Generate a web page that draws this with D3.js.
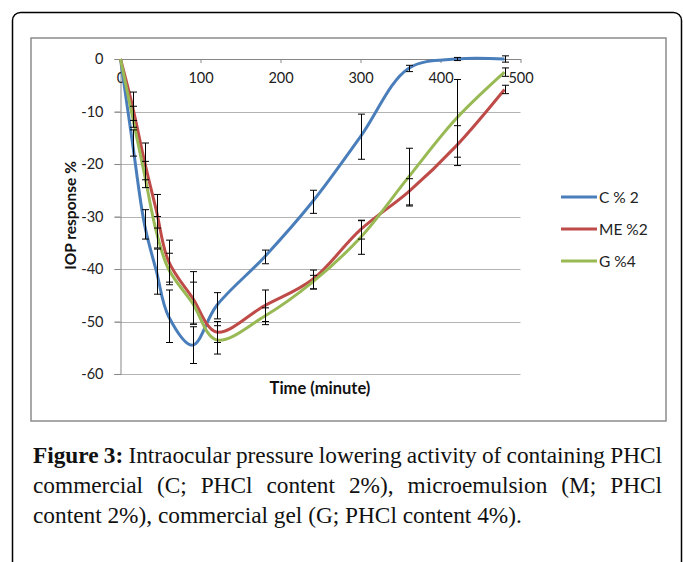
<!DOCTYPE html>
<html>
<head>
<meta charset="utf-8">
<script src="https://cdn.jsdelivr.net/npm/d3@7"></script>
<style>
html,body{margin:0;padding:0;background:#fff;}
svg{display:block;}
</style>
</head>
<body>
<svg id="chart" width="683" height="562"></svg>
<script>
// ---- data ----
const times = [0, 15, 30, 45, 60, 90, 120, 180, 240, 300, 360, 420, 480];
const seriesNames = ["C % 2", "ME %2", "G %4"];
const cValues  = [0, -16, -31.5, -40.5, -49, -54.5, -47, -37.7, -27.2, -14.8, -1.8, 0, 0];
const meValues = [0, -9, -19.5, -29, -38.5, -45.5, -52, -47, -42, -32.5, -25.3, -16.5, -5.8];
const gValues  = [0, -11, -22, -33, -40, -46.5, -53.5, -49, -42.5, -34, -22.5, -11.3, -2.5];
const cErr  = [0, 2.5, 2.8, 4.3, 5, 3.5, 2.5, 1.3, 2.2, 4.3, 0.6, 0.3, 0.6];
const meErr = [0, 2.7, 3.5, 3.2, 4, 5, 2, 3, 1.8, 1.8, 2.5, 3.8, 0.8];
const gErr  = [0, 2, 2.5, 3, 3, 4, 2.7, 1.6, 1.3, 3.2, 5.5, 7.4, 0.8];
const xTicks = [0, 100, 200, 300, 400, 500];
const yTicks = [0, -10, -20, -30, -40, -50, -60];
const xTitle = "Time (minute)";
const yTitle = "IOP response %";
const captionBold = "Figure 3:";
const captionLines = [
  "Intraocular pressure lowering activity of containing PHCl",
  "commercial (C; PHCl content 2%), microemulsion (M; PHCl",
  "content 2%), commercial gel (G; PHCl content 4%)."
];

const colors = ["#4a7ebb", "#be4b48", "#98b954"];
const series = [
  {name: seriesNames[0], values: cValues, err: cErr, color: colors[0]},
  {name: seriesNames[1], values: meValues, err: meErr, color: colors[1]},
  {name: seriesNames[2], values: gValues, err: gErr, color: colors[2]}
];

const svg = d3.select("#chart");

// outer frame
svg.append("rect").attr("x", 12.5).attr("y", 12.5).attr("width", 669).attr("height", 620)
  .attr("rx", 8).attr("fill", "none").attr("stroke", "#000").attr("stroke-width", 1.5);
// inner chart box
svg.append("rect").attr("x", 31).attr("y", 38).attr("width", 635).attr("height", 383)
  .attr("fill", "#fff").attr("stroke", "#8c8c8c").attr("stroke-width", 1.5);

const x = d3.scaleLinear().domain([0, 500]).range([120.5, 520.5]);
const y = d3.scaleLinear().domain([-60, 0]).range([374, 59]);

const tickFont = "Lato, 'Open Sans', sans-serif";

// gridlines
svg.append("g").selectAll("line").data(yTicks.filter(d => d !== 0)).join("line")
  .attr("x1", x(0) - 6).attr("x2", x(500))
  .attr("y1", d => Math.round(y(d)) + 0.5).attr("y2", d => Math.round(y(d)) + 0.5)
  .attr("stroke", "#b3b3b3").attr("stroke-width", 1);

// y axis
const yAxis = d3.axisLeft(y).tickValues(yTicks).tickSize(6).tickFormat(d3.format("d"));
const gy = svg.append("g").attr("transform", `translate(${x(0)},0)`).call(yAxis);
gy.select(".domain").attr("stroke", "#868686");
gy.selectAll(".tick line").attr("stroke", "#868686");
gy.selectAll(".tick text").attr("font-family", tickFont).attr("font-size", 14.5)
  .attr("fill", "#222").attr("x", -17).text(d => d === 0 ? "0" : "-" + Math.abs(d));

// x axis along y=0
const xAxis = d3.axisBottom(x).tickValues(xTicks).tickSize(4).tickSizeOuter(0);
const gx = svg.append("g").attr("transform", `translate(0,${y(0)})`).call(xAxis);
gx.select(".domain").attr("stroke", "#868686");
gx.selectAll(".tick line").attr("stroke", "#868686");
gx.selectAll(".tick text").attr("font-family", tickFont).attr("font-size", 14.5)
  .attr("fill", "#222").attr("y", 14);

// lines
const line = d3.line().x((d, i) => x(times[i])).y(d => y(d)).curve(d3.curveCatmullRom.alpha(0.5));
series.forEach(s => {
  svg.append("path").attr("d", line(s.values)).attr("fill", "none")
    .attr("stroke", s.color).attr("stroke-width", 3).attr("stroke-linejoin", "round");
});

// error bars
const eb = svg.append("g").attr("stroke", "#000").attr("stroke-width", 1);
series.forEach(s => {
  s.values.forEach((v, i) => {
    const e = s.err[i];
    if (!e) return;
    const cx = Math.round(x(times[i])) + 0.5;
    const y1 = y(v + e), y2 = y(v - e);
    eb.append("line").attr("x1", cx).attr("x2", cx).attr("y1", y1).attr("y2", y2);
    eb.append("line").attr("x1", cx - 3.5).attr("x2", cx + 3.5).attr("y1", y1).attr("y2", y1);
    eb.append("line").attr("x1", cx - 3.5).attr("x2", cx + 3.5).attr("y1", y2).attr("y2", y2);
  });
});

// axis titles
svg.append("text").attr("x", 320).attr("y", 394).attr("text-anchor", "middle")
  .attr("font-family", tickFont).attr("font-weight", "bold").attr("font-size", 16.5)
  .attr("fill", "#111").text(xTitle);
svg.append("text").attr("transform", `translate(76,215.5) rotate(-90)`)
  .attr("text-anchor", "middle")
  .attr("font-family", tickFont).attr("font-weight", "bold").attr("font-size", 15.5)
  .attr("fill", "#111").text(yTitle);

// legend
const legend = svg.append("g");
series.forEach((s, i) => {
  const ly = 197 + i * 32;
  legend.append("line").attr("x1", 561).attr("x2", 597).attr("y1", ly).attr("y2", ly)
    .attr("stroke", s.color).attr("stroke-width", 3);
  legend.append("text").attr("x", 599).attr("y", ly).attr("dy", "0.36em")
    .attr("font-family", tickFont).attr("font-size", 15.5).attr("fill", "#222").text(s.name);
});

// caption (justified)
const capFont = "'Liberation Serif', 'Times New Roman', serif";
const left = 33, right = 662;
const probe = svg.append("text").attr("font-family", capFont).attr("font-size", 20).text(captionLines[2]);
const w20 = probe.node().getComputedTextLength();
probe.remove();
const fs = 20 * 489 / w20;
const baselines = [463, 493, 523];
const cap = svg.append("g").attr("font-family", capFont).attr("font-size", fs).attr("fill", "#111");
captionLines.forEach((ln, li) => {
  let words = ln.split(" ").map(w => ({t: w, bold: false}));
  if (li === 0) words = captionBold.split(" ").map(w => ({t: w, bold: true})).concat(words);
  const nodes = words.map(w => cap.append("text").attr("y", baselines[li])
    .attr("font-weight", w.bold ? "bold" : "normal").text(w.t));
  const widths = nodes.map(n => n.node().getComputedTextLength());
  const sum = d3.sum(widths);
  let gap;
  if (li < captionLines.length - 1) gap = (right - left - sum) / (words.length - 1);
  else gap = fs * 0.25;
  let cx = left;
  nodes.forEach((n, i) => { n.attr("x", cx); cx += widths[i] + gap; });
});
</script>
</body>
</html>
